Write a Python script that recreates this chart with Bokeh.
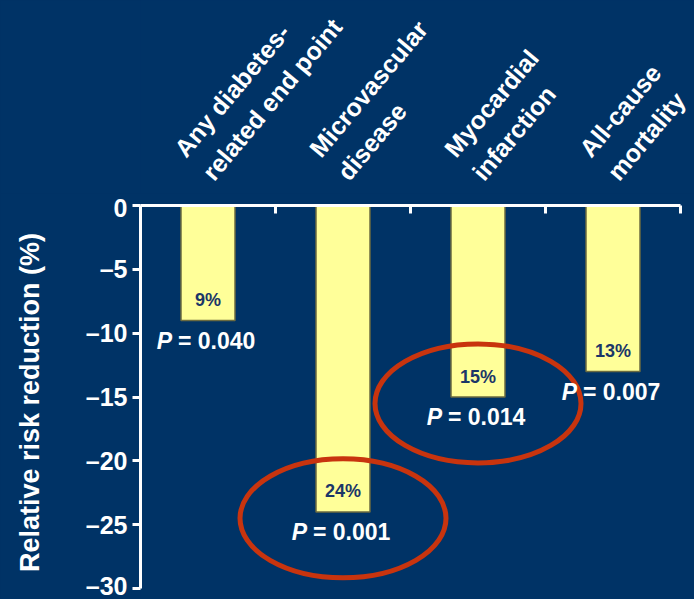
import math
from bokeh.plotting import figure
from bokeh.layouts import column
from bokeh.models import Range1d, FixedTicker
from bokeh.core.properties import value
from bokeh.embed import file_html
from bokeh.resources import INLINE

# ---- data ----
categories = ["Any diabetes-\nrelated end point", "Microvascular\ndisease",
              "Myocardial\ninfarction", "All-cause\nmortality"]
reductions = [-9, -24, -15, -13]
pct_labels = ["9%", "24%", "15%", "13%"]
p_values = ["0.040", "0.001", "0.014", "0.007"]
highlighted = ["Microvascular\ndisease", "Myocardial\ninfarction"]
y_ticks = [0, -5, -10, -15, -20, -25, -30]

BG = "#003366"
FONT = "Liberation Sans"
BAR = "#FFFF99"
RED = "#C8340E"

# ---- layout constants (page pixels) ----
W, H = 694, 599
LEFT, RIGHT = 140, 680          # extent of the category axis
HEAD = 193                       # height of the category-label strip
MAIN_TOP = 12                    # border above the zero line in the main figure
ZERO, BOTTOM30 = HEAD + MAIN_TOP, 588
LABEL_BASE = 185                 # page y where rotated category labels start

n = len(categories)
xpos = [i + 0.5 for i in range(n)]
px_per_cat = (RIGHT - LEFT) / n
x_range = Range1d(0, (W - LEFT) / px_per_cat)   # frame runs to the right page edge

# ---- header strip with rotated category labels (shares x mapping) ----
head = figure(width=W, height=HEAD, output_backend="svg", toolbar_location=None,
              x_range=x_range, y_range=Range1d(0, 1),
              x_axis_location=None, y_axis_location=None,
              min_border_left=LEFT, min_border_right=0, min_border_top=0, min_border_bottom=0,
              background_fill_color=BG, border_fill_color=BG,
              outline_line_color=None, styles={"background-color": BG})
head.grid.visible = False
head.text(x=xpos, y=[0] * n, text=categories, angle=math.radians(50), x_offset=10,
          y_offset=-(HEAD - LABEL_BASE), text_align="left", text_baseline="bottom",
          text_font=value(FONT), text_font_style="bold", text_font_size="25px",
          text_color="white", text_line_height=1.3)

# ---- main chart ----
main_h = H - HEAD
frame_h = main_h - MAIN_TOP
y_min = min(y_ticks)
y_bottom = y_min * frame_h / (BOTTOM30 - ZERO)

p = figure(width=W, height=main_h, x_range=x_range, y_range=Range1d(y_bottom, 0),
           x_axis_location="above", output_backend="svg", toolbar_location=None,
           min_border_left=LEFT, min_border_right=0, min_border_top=MAIN_TOP,
           min_border_bottom=0,
           background_fill_color=BG, border_fill_color=BG, outline_line_color=None,
           styles={"background-color": BG})
p.grid.visible = False

# bars
p.vbar(x=xpos, top=0, bottom=reductions, width=0.4, fill_color=BAR,
       line_color="#6B6B40", line_width=1.5)

# highlight ellipses
hx = [xpos[categories.index(c)] for c in highlighted]
hy = [reductions[categories.index(c)] - 0.5 for c in highlighted]
p.ellipse(x=hx, y=hy, width=206, height=119, width_units="screen", height_units="screen",
          fill_color=None, line_color=RED, line_width=5)

# percentage labels inside bars
p.text(x=xpos, y=[v + 1.6 for v in reductions], text=pct_labels, text_align="center",
       text_baseline="middle", text_font=value(FONT), text_font_style="bold",
       text_font_size="18px", text_color="#1B3668")

# P-value labels below bars
p.text(x=xpos, y=[v - 1.6 for v in reductions], text=["P"] * n, x_offset=-36,
       text_align="right", text_baseline="middle", text_font=value(FONT),
       text_font_style="bold italic", text_font_size="23px", text_color="white")
p.text(x=xpos, y=[v - 1.6 for v in reductions], text=["= " + s for s in p_values], x_offset=-30,
       text_align="left", text_baseline="middle", text_font=value(FONT),
       text_font_style="bold", text_font_size="23px", text_color="white")

# top axis = zero line, ticks at category boundaries
xa = p.xaxis[0]
xa.bounds = (0, n)
xa.ticker = FixedTicker(ticks=[], minor_ticks=list(range(1, n + 1)))
xa.axis_line_color = "white"
xa.axis_line_width = 3
xa.major_tick_line_color = None
xa.major_tick_in = 0
xa.major_tick_out = 0
xa.major_label_standoff = 0
xa.minor_tick_line_color = "white"
xa.minor_tick_line_width = 3
xa.minor_tick_in = 8
xa.minor_tick_out = 0

# y axis
ya = p.yaxis[0]
ya.bounds = (y_min, 0)
ya.ticker = FixedTicker(ticks=y_ticks)
ya.major_label_overrides = {t: ("\u2013" + str(-t) if t < 0 else str(t)) for t in y_ticks}
ya.axis_label = "Relative risk reduction (%)"
ya.axis_label_text_font = FONT
ya.axis_label_text_font_size = "27px"
ya.axis_label_text_font_style = "bold"
ya.axis_label_text_color = "white"
ya.axis_label_standoff = 38
ya.major_label_text_font = FONT
ya.major_label_text_font_size = "25px"
ya.major_label_text_font_style = "bold"
ya.major_label_text_color = "white"
ya.major_label_standoff = 5
ya.major_tick_out = 8
ya.major_tick_in = 0
ya.major_tick_line_width = 3
ya.major_tick_line_color = "white"
ya.minor_tick_line_color = None
ya.axis_line_color = "white"
ya.axis_line_width = 3

layout = column(head, p, spacing=0, styles={"background-color": BG})
open("out.html", "w").write(file_html(layout, INLINE))
